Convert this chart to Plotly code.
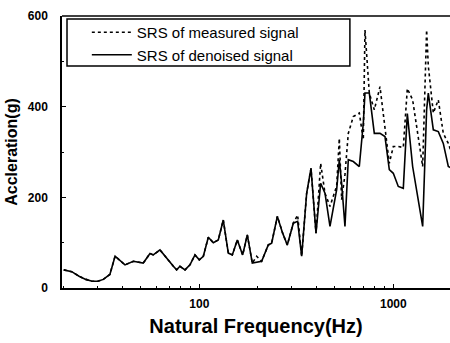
import plotly.graph_objects as go
import math

freq = [20, 22, 24, 26, 28, 30, 32, 34.6, 36.8, 41.4, 45.7, 51.4, 55.7, 57.9, 62.7, 66.5, 73.5, 76.4, 79.5,
        84.4, 89.5, 95.0, 100, 104.9, 111.3, 118.1, 125.3, 132.9, 141.1, 148.0, 157.0,
        167.3, 176.8, 187.6, 197.5, 209.6, 226.8, 236.0, 252.5, 268.9, 284.2, 305.2,
        321.3, 337.0, 357.6, 376.5, 399.5, 422.2, 444.5, 471.6, 510.6, 526.9, 541.6,
        563.4, 586.1, 622.0, 667.9, 700.5, 714.5, 752.2, 798.2, 853.8, 905.9, 953.6,
        1000, 1061, 1126, 1181, 1258, 1417, 1485, 1515, 1608, 1706, 1810, 1921, 1990]

denoised = [40, 36, 26, 19, 15, 15, 19, 30, 70, 51, 59, 55, 76, 73, 84, 70, 48, 40, 48,
            40, 51, 73, 62, 70, 112, 100, 106, 150, 77, 73, 106,
            73, 117, 55, 57, 59, 95, 99, 158, 121, 95, 143,
            147, 70, 209, 264, 121, 231, 209, 136, 217, 283, 231,
            136, 283, 279, 268, 364, 430, 430, 341, 341, 334, 261,
            253, 224, 220, 385, 268, 136, 393, 430, 349, 345, 319, 268, 265]

measured = [40, 36, 26, 19, 15, 15, 19, 30, 70, 51, 59, 55, 76, 73, 84, 70, 48, 40, 48,
            40, 51, 73, 62, 70, 112, 100, 106, 150, 77, 73, 106,
            73, 117, 55, 70, 59, 95, 99, 158, 121, 95, 143,
            161, 70, 209, 264, 121, 275, 209, 180, 225, 330, 195,
            250, 341, 378, 386, 327, 569, 430, 393, 444, 356, 275,
            312, 312, 310, 440, 415, 268, 569, 490, 386, 415, 341, 319, 300]

x_ticks = [100, 1000]
x_tick_labels = ["100", "1000"]
y_ticks = [0, 200, 400, 600]

fig = go.Figure()
fig.add_trace(go.Scatter(x=freq, y=measured, mode="lines", name="SRS of measured signal",
                         line=dict(color="black", width=1.6, dash="dot")))
fig.add_trace(go.Scatter(x=freq, y=denoised, mode="lines", name="SRS of denoised signal",
                         line=dict(color="black", width=1.6)))

tickfont = dict(family="Liberation Sans, Arial", size=12, color="black", weight="bold")
fig.update_layout(
    width=450, height=343,
    margin=dict(l=62, r=0, t=16, b=55),
    plot_bgcolor="white", paper_bgcolor="white",
    showlegend=True,
    legend=dict(x=0.064, y=1.0, xanchor="left", yanchor="top",
                borderwidth=0, bgcolor="rgba(0,0,0,0)",
                font=dict(family="Liberation Sans, Arial", size=15, color="black"),
                tracegroupgap=0, itemwidth=40),
    xaxis=dict(type="log", range=[math.log10(19.6), math.log10(1960)],
               tickvals=x_ticks, ticktext=x_tick_labels, tickfont=tickfont,
               ticks="inside", ticklen=4, tickcolor="black", ticklabelstandoff=4,
               minor=dict(ticks="inside", ticklen=2, tickcolor="black", dtick="D1"),
               showgrid=False, showline=True, linecolor="black", linewidth=1.5,
               mirror=False, zeroline=False,
               title=dict(text="Natural Frequency(Hz)", standoff=9,
                          font=dict(family="Liberation Sans, Arial", size=20, color="black", weight="bold"))),
    yaxis=dict(range=[0, 600], tickvals=y_ticks, tickfont=tickfont,
               ticks="inside", ticklen=4, tickcolor="black", ticklabelstandoff=10,
               minor=dict(ticks="inside", ticklen=2, tickcolor="black", dtick=100),
               showgrid=False, showline=True, linecolor="black", linewidth=1.5,
               zeroline=False,
               title=dict(text="Accleration(g)", standoff=6,
                          font=dict(family="Liberation Sans, Arial", size=16, color="black", weight="bold"))),
)
fig.add_shape(type="line", xref="paper", yref="paper", x0=0, x1=1, y0=1, y1=1,
              line=dict(color="black", width=1.5))
fig.add_shape(type="rect", xref="paper", yref="paper", x0=0.0129, x1=0.742, y0=0.816, y1=0.989,
              line=dict(color="black", width=1.5))
fig.write_html("out.html")
